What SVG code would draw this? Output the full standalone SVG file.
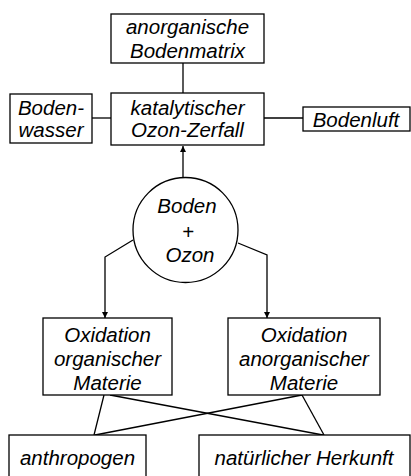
<svg xmlns="http://www.w3.org/2000/svg" width="411" height="476" viewBox="0 0 411 476">
<defs>
<style>
.b{fill:#fff;stroke:#000;stroke-width:1.3}
.t{font-family:"Liberation Sans",Arial,sans-serif;font-style:italic;font-size:20.5px;fill:#000;text-anchor:middle}
.c{fill:none;stroke:#000;stroke-width:1.3}
</style>
<marker id="ah" viewBox="0 0 10 10" refX="10" refY="5" markerWidth="7" markerHeight="6" markerUnits="userSpaceOnUse" orient="auto">
<path d="M0,0 L10,5 L0,10 Z" fill="#000"/>
</marker>
</defs>
<rect width="411" height="476" fill="#fff"/>
<g id="connectors">
<line class="c" x1="183" y1="63" x2="183" y2="93"/>
<line class="c" x1="92" y1="118" x2="111" y2="118"/>
<line class="c" x1="264" y1="118" x2="303" y2="118"/>
<line class="c" x1="183" y1="178" x2="183" y2="146" marker-end="url(#ah)"/>
<polyline class="c" points="133,240 105,257 105,318" marker-end="url(#ah)"/>
<polyline class="c" points="238,243 267,255 267,318" marker-end="url(#ah)"/>
<line class="c" x1="104" y1="395" x2="94" y2="435"/>
<line class="c" x1="110" y1="395" x2="323" y2="435"/>
<line class="c" x1="302" y1="395" x2="95" y2="435"/>
<line class="c" x1="302" y1="395" x2="324" y2="435"/>
</g>
<g id="matrix">
<rect class="b" x="111" y="14" width="153" height="49"/>
<text class="t" x="187.5" y="34">anorganische</text>
<text class="t" x="187.5" y="58">Bodenmatrix</text>
</g>
<g id="zerfall">
<rect class="b" x="111" y="93" width="153" height="52"/>
<text class="t" x="187.5" y="115">katalytischer</text>
<text class="t" x="187.5" y="137">Ozon-Zerfall</text>
</g>
<g id="wasser">
<rect class="b" x="10" y="94" width="82" height="49"/>
<text class="t" x="51" y="115">Boden-</text>
<text class="t" x="51" y="137">wasser</text>
</g>
<g id="luft">
<rect class="b" x="303" y="107" width="107" height="24"/>
<text class="t" x="356" y="127">Bodenluft</text>
</g>
<g id="bodenozon">
<circle class="b" cx="185.5" cy="230" r="52.5"/>
<text class="t" x="187" y="213">Boden</text>
<text class="t" x="188" y="239">+</text>
<text class="t" x="190" y="262">Ozon</text>
</g>
<g id="orgox">
<rect class="b" x="43" y="318" width="129" height="77"/>
<text class="t" x="107.5" y="342">Oxidation</text>
<text class="t" x="107.5" y="366">organischer</text>
<text class="t" x="107.5" y="390">Materie</text>
</g>
<g id="anorgox">
<rect class="b" x="228" y="318" width="152" height="77"/>
<text class="t" x="304" y="342">Oxidation</text>
<text class="t" x="304" y="366">anorganischer</text>
<text class="t" x="304" y="390">Materie</text>
</g>
<g id="anthropogen">
<rect class="b" x="9" y="435" width="137" height="50"/>
<text class="t" x="77.5" y="465">anthropogen</text>
</g>
<g id="natuerlich">
<rect class="b" x="199" y="435" width="211" height="50"/>
<text class="t" x="304" y="465">natürlicher Herkunft</text>
</g>
</svg>
